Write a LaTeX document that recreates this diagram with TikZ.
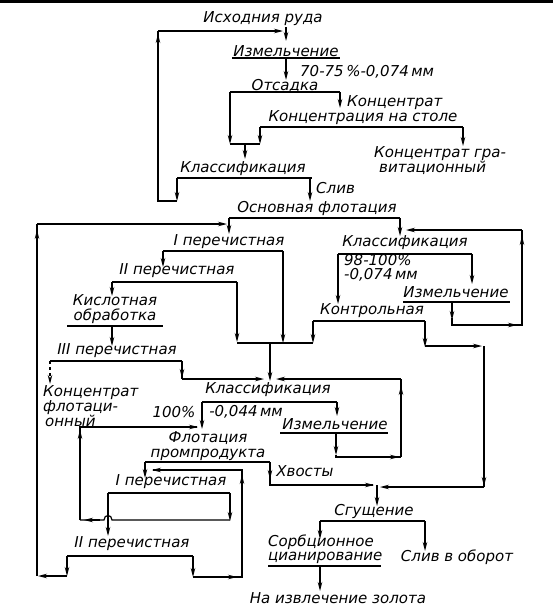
\documentclass[tikz,border=0pt]{standalone}
\usepackage{fontspec}
\setmainfont{DejaVu Sans}
\usetikzlibrary{arrows.meta}
\begin{document}
\begin{tikzpicture}[x=1pt,y=-1pt,
  lbl/.style={font=\fontsize{15}{14.5}\selectfont\itshape, inner sep=0pt},
  tight/.style={font=\fontsize{15}{13.5}\selectfont\itshape},
  ul/.style={line width=2.2pt},
  ln/.style={line width=1.2pt},
  ar/.style={ln,-{Stealth[length=9pt,width=4.5pt]}},
  every node/.style={lbl}]
\useasboundingbox (0,0) rectangle (553,608);
\fill (0,0) rectangle (553,2.5);

% ---- top part
\node (ish) at (263,19) {Исходния руда};
\draw[ar] (286,27) -- (286,41);
\node (izm1) at (286,51) {Измельчение};
\draw[ul] (232,58) coordinate (izm1L) -- (340,58) coordinate (izm1R);
\draw[ar] (286,58) -- (286,80);
\node[anchor=west] (sz1) at (300,72) {70-75\,\%-0,074\,мм};
\node (ots) at (285,86) {Отсадка};
\draw[ul] (230,92) coordinate (otsL) -- (340,92) coordinate (otsR);
\draw[ar] (otsR) -- (340,108);
\node[anchor=west] (konc1) at (347,103) {Концентрат};
\node (kns) at (363,118) {Концентрация на столе};
\draw[ul] (260,127) coordinate (knsL) -- (463,127) coordinate (knsR);
\draw[ar] (knsR) -- (463,146);
\node[tight, anchor=north west, align=left] (kgr) at (374,146) {Концентрат гра-\\\hspace*{5pt}витационный};
\draw[ar] (otsL) -- (230,144);
\draw[ar] (knsL) -- (260,144);
\draw[ln] (230,144) -- (260,144);
\draw[ar] (245,144) -- (245,159);
\node (kl1) at (243,169) {Классификация};
\draw[ul] (177,178) coordinate (kl1L) -- (312,178) coordinate (kl1R);
\draw[ar] (310,178) -- (310,201);
\node[anchor=west] (sliv1) at (316,188) {Слив};
\draw[ar] (kl1L) -- (177,201);
\draw[ln] (177,201) -- (158,201) -- (158,31);
\draw[ar] (158,60) -- (158,34);
\draw[ar] (158,31) -- (283,31);

% ---- main flotation
\node (osn) at (317,208) {Основная флотация};
\draw[ul] (229,218) coordinate (osnL) -- (400,218) coordinate (osnR);
\draw[ar] (osnR) -- (400,236);
\draw[ar] (osnL) -- (229,234);
\draw[ln] (37,576) -- (37,224);
\draw[ar] (37,262) -- (37,230);
\draw[ar] (37,224) -- (227,224);

\node (per1) at (229,242) {I перечистная};
\draw[ul] (163,251) coordinate (per1L) -- (283,251) coordinate (per1R);
\draw[ar] (per1L) -- (163,267);
\draw[ar] (per1R) -- (283,343);

\node (kl2) at (405,243) {Классификация};
\draw[ul] (338,254) coordinate (kl2L) -- (472,254) coordinate (kl2R);
\node[tight, anchor=west, align=left] (sz2) at (344,268) {98-100\%\\-0,074\,мм};
\draw[ar] (kl2R) -- (472,284);
\draw[ar] (kl2L) -- (338,304);
\node (izm2) at (456,292) {Измельчение};
\draw[ul] (403,302) coordinate (izm2L) -- (510,302) coordinate (izm2R);
\draw[ar] (452,302) -- (452,320);
\draw[ln] (452,318) -- (452,325) -- (522,325) -- (522,230);
\draw[ar] (490,325) -- (517,325);
\draw[ar] (522,270) -- (522,236);
\draw[ar] (522,230) -- (406,230);

\node (per2) at (177,271) {II перечистная};
\draw[ul] (112,282) coordinate (per2L) -- (237,282) coordinate (per2R);
\draw[ar] (per2L) -- (112,296);
\draw[ar] (per2R) -- (237,342);
\node[align=center] (kisl) at (115,309) {Кислотная\\обработка};
\draw[ul] (67,326) coordinate (kislL) -- (163,326) coordinate (kislR);
\draw[ar] (112,326) -- (112,346);

\node (kontr) at (372,311) {Контрольная};
\draw[ul] (313,321) coordinate (kontrL) -- (425,321) coordinate (kontrR);
\draw[ar] (kontrL) -- (313,343);
\draw[ar] (kontrR) -- (425,347);
\draw[ar] (425,346) -- (482,346);
\draw[ln] (484,346) -- (484,487);
\draw[ar] (484,440) -- (484,486);
\draw[ar] (484,487) -- (380,487);

\draw[ln] (237,343) -- (313,343);
\draw[ar] (270,343) -- (270,381);

\node (per3) at (117,351) {III перечистная};
\draw[ul] (50,361) coordinate (per3L) -- (182,361) coordinate (per3R);
\draw[ln] (per3R) -- (182,379);
\draw[ar] (182,369) -- (182,378);
\draw[ar] (182,379) -- (264,379);
\draw[ar,dashed] (per3L) -- (50,384);
\node[tight, anchor=north west, align=left] (kfl) at (43,385) {Концентрат\\флотаци-\\\hspace*{2pt}онный};

\node (kl3) at (268,390) {Классификация};
\draw[ul] (202,402) coordinate (kl3L) -- (337,402) coordinate (kl3R);
\draw[ln] (401,457) -- (401,379);
\draw[ar] (401,420) -- (401,386);
\draw[ar] (401,379) -- (276,379);
\draw[ar] (kl3L) -- (202,429);
\draw[ar] (kl3R) -- (337,416);
\node (p100) at (174,412) {100\%};
\node (sz3) at (246,412) {-0,044\,мм};
\node (izm3) at (335,424) {Измельчение};
\draw[ul] (280,433) coordinate (izm3L) -- (388,433) coordinate (izm3R);
\draw[ar] (336,433) -- (336,455);
\draw[ln] (336,455) -- (336,457) -- (401,457);
\draw[ar] (360,457) -- (399,457);

% ---- middlings flotation
\node[align=center] (flp) at (208,446) {Флотация\\промпродукта};
\draw[ul] (145,462) coordinate (flpL) -- (270,462) coordinate (flpR);
\draw[ar] (flpL) -- (145,478);
\draw[ln] (flpR) -- (270,485) -- (373,485);
\draw[ar] (flpR) -- (270,479);
\draw[ar] (300,485) -- (374,485);
\node (hv) at (305,471) {Хвосты};
\draw[ar] (377,485) -- (377,506);

\draw[ln] (80,520) -- (80,427) -- (197,427);
\draw[ar] (80,460) -- (80,430);
\draw[ar] (80,427) -- (198,427);

\node (per1b) at (171,482) {I перечистная};
\draw[ul] (108,493) coordinate (per1bL) -- (230,493) coordinate (per1bR);
\draw[ar] (per1bR) -- (230,521);
\draw[ln] (230,520) -- (112,520) .. controls (112,514) and (104,514) .. (104,520) -- (80,520);
\draw[ar] (100,520) -- (84,520);
\draw[ar] (per1bL) -- (108,536);

\node (per2b) at (132,544) {II перечистная};
\draw[ul] (67,556) coordinate (per2bL) -- (193,556) coordinate (per2bR);
\draw[ar] (per2bL) -- (67,576);
\draw[ar] (67,576) -- (38,576);
\draw[ar] (per2bR) -- (193,577);
\draw[ln] (193,577) -- (242,577) -- (242,470) -- (153,470);
\draw[ar] (200,577) -- (237,577);
\draw[ar] (242,520) -- (242,475);
\draw[ar] (242,470) -- (152,470);

% ---- thickening
\node (sgu) at (374,511) {Сгущение};
\draw[ul] (320,521) coordinate (sguL) -- (425,521) coordinate (sguR);
\draw[ar] (sguL) -- (320,539);
\draw[ar] (sguR) -- (425,551);
\node[anchor=south west, align=left] (sorb) at (268,564) {Сорбционное\\цианирование};
\draw[ul] (268,566) coordinate (sorbL) -- (381,566) coordinate (sorbR);
\draw[ar] (320,566) -- (320,591);
\node (izv) at (338,598) {На извлечение золота};
\node (slivob) at (457,557) {Слив в оборот};
\end{tikzpicture}
\end{document}
